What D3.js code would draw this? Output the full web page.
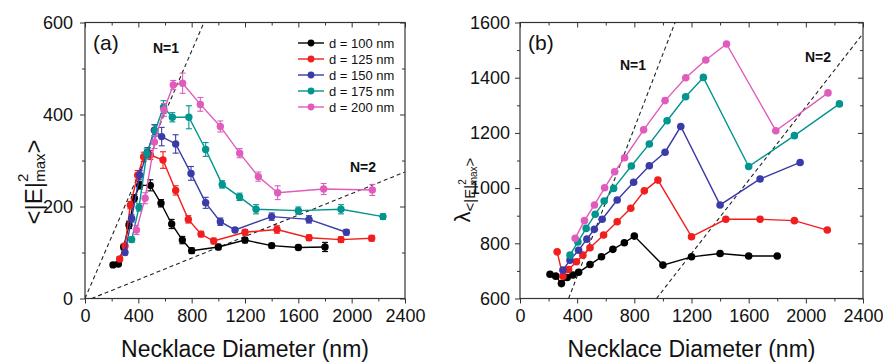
<!DOCTYPE html>
<html>
<head>
<meta charset="utf-8">
<script src="https://cdn.jsdelivr.net/npm/d3@7"></script>
<style>
  body { margin: 0; background: #fff; }
  svg text { font-family: "Liberation Sans", Arial, sans-serif; fill: #111; }
</style>
</head>
<body>
<svg id="chart" width="883" height="364"></svg>
<script>
// legend labels and colours, one per particle diameter d
var seriesLabels = ['d = 100 nm', 'd = 125 nm', 'd = 150 nm', 'd = 175 nm', 'd = 200 nm'];
var seriesColors = ['#000000', '#f21d1d', '#3a3aa8', '#00958e', '#e05cbc'];

// necklace diameters (nm) for each series
var diam100 = [210, 250, 290, 330, 370, 410, 490, 570, 650, 730, 800, 1000, 1200, 1400, 1600, 1800];
var diam125 = [260, 300, 340, 395, 440, 490, 585, 680, 775, 870, 965, 1200, 1440, 1680, 1920, 2150];
var diam150 = [300, 350, 410, 468, 520, 575, 680, 795, 905, 1015, 1125, 1400, 1680, 1960];
var diam175 = [350, 405, 463, 526, 589, 655, 779, 905, 1029, 1159, 1283, 1600, 1920, 2235];
var diam200 = [386, 451, 521, 592, 662, 732, 865, 1015, 1160, 1300, 1445, 1790, 2155];

// panel (a): <|E|^2 max> and its error
var enh100 = [73, 75, 112, 160, 218, 246, 246, 207, 162, 127, 104, 112, 127, 115, 111, 112];
var err100 = [4, 4, 6, 8, 8, 8, 12, 8, 10, 8, 6, 6, 6, 5, 5, 10];
var enh125 = [86, 114, 203, 268, 308, 312, 301, 235, 172, 140, 125, 144, 150, 132, 128, 131];
var err125 = [5, 6, 8, 10, 10, 10, 18, 10, 8, 6, 6, 6, 8, 6, 6, 6];
var enh150 = [100, 174, 268, 318, 366, 352, 336, 272, 208, 167, 149, 178, 172, 144];
var err150 = [5, 8, 10, 10, 12, 20, 20, 15, 12, 8, 5, 8, 8, 6];
var enh175 = [128, 198, 315, 365, 416, 394, 394, 324, 248, 221, 194, 191, 194, 178];
var err175 = [6, 8, 10, 12, 14, 10, 25, 15, 8, 8, 10, 8, 10, 6];
var enh200 = [149, 218, 340, 410, 464, 468, 422, 374, 316, 265, 230, 238, 236];
var err200 = [10, 12, 14, 14, 10, 22, 15, 12, 10, 10, 15, 12, 12];

// panel (b): wavelength of the max enhancement (nm)
var lam100 = [688, 681, 654, 676, 685, 695, 723, 751, 778, 802, 826, 721, 751, 763, 754, 754];
var lam125 = [769, 681, 705, 733, 757, 784, 830, 878, 927, 990, 1029, 824, 887, 887, 882, 848];
var lam150 = [703, 739, 775, 815, 851, 887, 957, 1021, 1081, 1130, 1223, 939, 1033, 1093];
var lam175 = [757, 805, 854, 905, 953, 999, 1080, 1160, 1244, 1331, 1401, 1078, 1190, 1305];
var lam200 = [818, 882, 939, 1001, 1059, 1110, 1211, 1317, 1400, 1464, 1522, 1208, 1345];

// guide lines (end points in data units)
var n1LineA = [[0, 0], [892, 600]];
var n2LineA = [[50, 0], [2400, 275]];
var n1LineB = [[340, 600], [1085, 1600]];
var n2LineB = [[955, 600], [2400, 1560]];

var xTicks = [0, 400, 800, 1200, 1600, 2000, 2400];
var yTicksA = [0, 200, 400, 600];
var yTicksB = [600, 800, 1000, 1200, 1400, 1600];

var series = [
  { x: diam100, a: enh100, e: err100, b: lam100 },
  { x: diam125, a: enh125, e: err125, b: lam125 },
  { x: diam150, a: enh150, e: err150, b: lam150 },
  { x: diam175, a: enh175, e: err175, b: lam175 },
  { x: diam200, a: enh200, e: err200, b: lam200 }
];
series.forEach(function (s, i) { s.color = seriesColors[i]; s.label = seriesLabels[i]; });

var svg = d3.select('#chart');
var tickFont = '"Liberation Sans Narrow", "Arial Narrow", "Liberation Sans", Arial, sans-serif';

function minorOf(ticks, step) {
  var out = [];
  for (var i = 0; i < ticks.length - 1; i++) out.push(ticks[i] + step);
  return out;
}

function drawPanel(cfg) {
  var x = d3.scaleLinear().domain([0, 2400]).range([cfg.left, cfg.right]);
  var y = d3.scaleLinear().domain(cfg.yDomain).range([cfg.bottom, cfg.top]);
  var g = svg.append('g');
  var fmt = d3.format('d');

  var clipId = 'clip-' + cfg.key;
  svg.append('clipPath').attr('id', clipId).append('rect')
    .attr('x', cfg.left).attr('y', cfg.top)
    .attr('width', cfg.right - cfg.left).attr('height', cfg.bottom - cfg.top);

  // axes: labelled major ticks outward, minor ticks, mirrored ticks inside
  var xMinor = minorOf(xTicks, 200);
  var yMinor = minorOf(cfg.yTicks, 100);
  var axes = [
    { ax: d3.axisBottom(x).tickValues(xTicks).tickSize(5).tickPadding(6).tickFormat(fmt), t: 'translate(0,' + cfg.bottom + ')' },
    { ax: d3.axisBottom(x).tickValues(xMinor).tickSize(3).tickFormat(''), t: 'translate(0,' + cfg.bottom + ')' },
    { ax: d3.axisLeft(y).tickValues(cfg.yTicks).tickSize(5).tickPadding(cfg.yPad).tickFormat(fmt), t: 'translate(' + cfg.left + ',0)' },
    { ax: d3.axisLeft(y).tickValues(yMinor).tickSize(3).tickFormat(''), t: 'translate(' + cfg.left + ',0)' },
    { ax: d3.axisTop(x).tickValues(xTicks).tickSize(-5).tickFormat(''), t: 'translate(0,' + cfg.top + ')' },
    { ax: d3.axisTop(x).tickValues(xMinor).tickSize(-3).tickFormat(''), t: 'translate(0,' + cfg.top + ')' },
    { ax: d3.axisRight(y).tickValues(cfg.yTicks).tickSize(-5).tickFormat(''), t: 'translate(' + cfg.right + ',0)' },
    { ax: d3.axisRight(y).tickValues(yMinor).tickSize(-3).tickFormat(''), t: 'translate(' + cfg.right + ',0)' }
  ];
  axes.forEach(function (a) {
    var ag = g.append('g').attr('transform', a.t).call(a.ax);
    ag.select('.domain').remove();
    ag.selectAll('line').attr('stroke', '#333');
    ag.selectAll('text').attr('font-size', 18).attr('fill', '#111')
      .attr('font-family', tickFont);
  });

  g.append('rect')
    .attr('x', cfg.left).attr('y', cfg.top)
    .attr('width', cfg.right - cfg.left).attr('height', cfg.bottom - cfg.top)
    .attr('fill', 'none').attr('stroke', '#333').attr('stroke-width', 1.2);

  // dashed guide lines
  var line = d3.line().x(function (d) { return x(d[0]); }).y(function (d) { return y(d[1]); });
  g.append('g').attr('clip-path', 'url(#' + clipId + ')')
    .selectAll('path').data(cfg.guides).enter().append('path')
    .attr('d', line).attr('fill', 'none').attr('stroke', '#222')
    .attr('stroke-width', 1.1).attr('stroke-dasharray', '4,3');

  // series
  var cells = g.selectAll('.series').data(series).enter().append('g').attr('class', 'series');
  cells.each(function (s) {
    var sel = d3.select(this);
    var pts = s.x.map(function (xv, i) { return { x: xv, y: s[cfg.field][i], e: s.e[i] }; });
    sel.append('path').datum(pts)
      .attr('d', d3.line().x(function (d) { return x(d.x); }).y(function (d) { return y(d.y); }))
      .attr('fill', 'none').attr('stroke', s.color).attr('stroke-width', 1.4);
    if (cfg.errors) {
      var eb = sel.selectAll('.err').data(pts).enter().append('g').attr('class', 'err')
        .attr('stroke', s.color).attr('stroke-width', 1.1);
      eb.append('line')
        .attr('x1', function (d) { return x(d.x); }).attr('x2', function (d) { return x(d.x); })
        .attr('y1', function (d) { return y(d.y - d.e); }).attr('y2', function (d) { return y(d.y + d.e); });
      [1, -1].forEach(function (sgn) {
        eb.append('line')
          .attr('x1', function (d) { return x(d.x) - 3; }).attr('x2', function (d) { return x(d.x) + 3; })
          .attr('y1', function (d) { return y(d.y + sgn * d.e); }).attr('y2', function (d) { return y(d.y + sgn * d.e); });
      });
    }
    sel.selectAll('circle').data(pts).enter().append('circle')
      .attr('cx', function (d) { return x(d.x); }).attr('cy', function (d) { return y(d.y); })
      .attr('r', cfg.r).attr('fill', s.color);
  });

  // panel letter and guide labels
  g.append('text').attr('x', cfg.left + 8).attr('y', cfg.top + 27).attr('font-size', 21).text(cfg.letter);
  cfg.notes.forEach(function (n) {
    g.append('text').attr('x', n.x).attr('y', n.y).attr('font-size', 14)
      .attr('font-weight', 'bold').text(n.t);
  });

  // x axis title
  g.append('text').attr('x', (cfg.left + cfg.right) / 2).attr('y', 357)
    .attr('text-anchor', 'middle').attr('font-size', 23).text('Necklace Diameter (nm)');

  return { x: x, y: y, g: g };
}

var pa = drawPanel({
  key: 'a', left: 85, right: 405, top: 22.5, bottom: 298.5,
  yDomain: [0, 600], yTicks: yTicksA, yPad: 7, field: 'a', errors: true, r: 3.7,
  guides: [n1LineA, n2LineA], letter: '(a)',
  notes: [{ x: 153, y: 53, t: 'N=1' }, { x: 350, y: 172, t: 'N=2' }]
});

var pb = drawPanel({
  key: 'b', left: 520, right: 863, top: 22.5, bottom: 298.5,
  yDomain: [600, 1600], yTicks: yTicksB, yPad: 5, field: 'b', errors: false, r: 3.8,
  guides: [n1LineB, n2LineB], letter: '(b)',
  notes: [{ x: 620, y: 70, t: 'N=1' }, { x: 805, y: 62, t: 'N=2' }]
});

// legend in panel (a)
var leg = pa.g.append('g');
series.forEach(function (s, i) {
  var yy = 43 + i * 16;
  leg.append('line').attr('x1', 298).attr('x2', 324).attr('y1', yy).attr('y2', yy)
    .attr('stroke', s.color).attr('stroke-width', 1.4);
  leg.append('circle').attr('cx', 311).attr('cy', yy).attr('r', 3.4).attr('fill', s.color);
  leg.append('text').attr('x', 329).attr('y', yy + 4.5).attr('font-size', 13).text(s.label);
});

// y axis titles
var ta = svg.append('text').attr('transform', 'translate(42,182) rotate(-90)')
  .attr('text-anchor', 'middle').attr('font-size', 24);
ta.append('tspan').text('<|E|');
ta.append('tspan').attr('font-size', 15).attr('dy', -14).text('2');
ta.append('tspan').attr('font-size', 15).attr('dx', -8).attr('dy', 17).text('max');
ta.append('tspan').attr('dy', -3).text('>');

var tb = svg.append('text').attr('transform', 'translate(470,190) rotate(-90)')
  .attr('text-anchor', 'middle').attr('font-size', 22);
tb.append('tspan').text('\u03bb');
tb.append('tspan').attr('font-size', 15).attr('dy', 5).text('<|E|');
tb.append('tspan').attr('font-size', 10).attr('dy', -9).text('2');
tb.append('tspan').attr('font-size', 10).attr('dx', -6).attr('dy', 11).text('max');
tb.append('tspan').attr('font-size', 15).attr('dy', -2).text('>');
</script>
</body>
</html>
